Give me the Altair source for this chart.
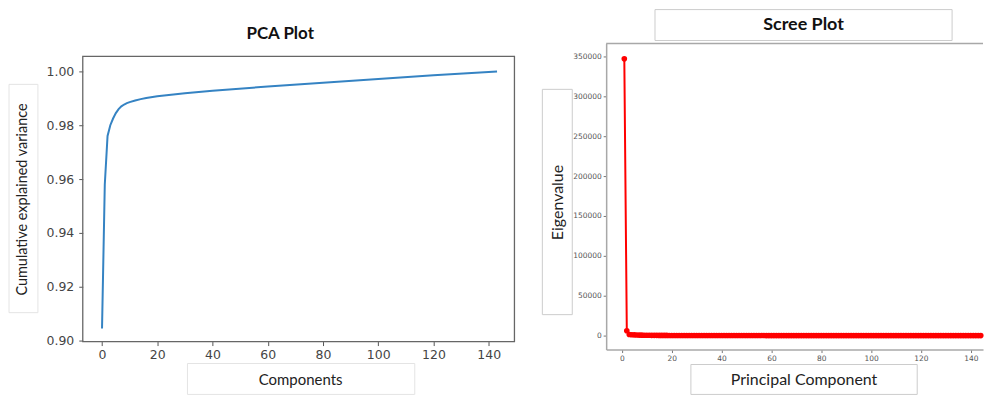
import altair as alt
import pandas as pd

# ---- data ----
cum_components = [0, 1, 2, 3, 4, 5, 6, 7, 8, 9, 10, 12, 14, 16, 20, 25, 30, 40, 60, 80, 100, 120, 143]
cum_variance = [0.9045, 0.958, 0.976, 0.980, 0.9825, 0.9845, 0.986, 0.987, 0.9877, 0.9882, 0.9886,
                0.9892, 0.9897, 0.9901, 0.9908, 0.9913, 0.9919, 0.9928, 0.9944, 0.9958, 0.9972,
                0.9986, 1.0000]

principal_component = list(range(1, 145))
eigenvalues = [347000, 6000,
               1400, 1100, 900, 750, 620, 540, 480, 420, 380, 340, 300, 270, 250, 230, 210, 195, 180, 170,
               160, 152, 145, 138, 131, 125, 119, 114, 109, 104, 100, 96, 92, 88, 85, 82, 79, 76, 73, 70,
               68, 66, 64, 62, 60, 58, 56, 54, 52, 50, 49, 48, 47, 46, 45, 44, 43, 42, 41, 40,
               39, 38, 37, 36, 35, 34, 33, 32, 31, 30, 29, 28, 27, 26, 25, 24, 23, 22, 21, 20,
               19.5, 19, 18.5, 18, 17.5, 17, 16.5, 16, 15.5, 15, 14.5, 14, 13.5, 13, 12.5, 12, 11.5, 11, 10.5, 10,
               9.6, 9.2, 8.8, 8.4, 8.0, 7.6, 7.2, 6.8, 6.4, 6.0, 5.7, 5.4, 5.1, 4.8, 4.5, 4.2, 3.9, 3.6, 3.3, 3.0,
               2.8, 2.6, 2.4, 2.2, 2.0, 1.9, 1.8, 1.7, 1.6, 1.5, 1.4, 1.3, 1.2, 1.1, 1.0, 0.9, 0.8, 0.7, 0.6, 0.5,
               0.4, 0.3, 0.2, 0.1]

left_x_ticks = [0, 20, 40, 60, 80, 100, 120, 140]
left_y_ticks = [0.90, 0.92, 0.94, 0.96, 0.98, 1.00]
right_x_ticks = [0, 20, 40, 60, 80, 100, 120, 140]
right_y_ticks = [0, 50000, 100000, 150000, 200000, 250000, 300000, 350000]

cum_df = pd.DataFrame({"Component": cum_components, "Cumulative": cum_variance})
scree_df = pd.DataFrame({"PC": principal_component, "Eigenvalue": eigenvalues})
one = pd.DataFrame({"k": [0]})

TXT = "Lato"
TICKF = "DejaVu Sans"

# ---------------- left: PCA plot ----------------
LW, LH = 433, 299

pca_line = alt.Chart(cum_df).mark_line(color="#3583c3", strokeWidth=2).encode(
    x=alt.X("Component:Q",
            scale=alt.Scale(domain=[-6.97, 149.3], nice=False, zero=False),
            axis=alt.Axis(values=left_x_ticks, format="d", grid=False, domain=False,
                          tickColor="#555", tickSize=4, labelColor="#444", labelFont=TICKF,
                          labelFontSize=12.5, labelPadding=3, labelFlush=False,
                          title="Components", titleFont=TXT, titleFontSize=15,
                          titleFontWeight="normal", titleColor="#222",
                          titleX=218, titleY=38, titleAlign="center", titleBaseline="middle")),
    y=alt.Y("Cumulative:Q",
            scale=alt.Scale(domain=[0.89963, 1.01037], nice=False, zero=False),
            axis=alt.Axis(values=left_y_ticks, format=".2f", grid=False, domain=False,
                          tickColor="#555", tickSize=4, labelColor="#444", labelFont=TICKF,
                          labelFontSize=12.5, labelPadding=5,
                          title="Cumulative explained variance", titleFont=TXT, titleFontSize=14.5,
                          titleFontWeight="normal", titleColor="#222",
                          titleX=-60, titleY=156, titleAlign="center", titleBaseline="middle")),
)

pca_frame = alt.Chart(one).mark_rect(fillOpacity=0, stroke="#666", strokeWidth=1.3).encode(
    x=alt.value(0), x2=alt.value(LW), y=alt.value(13), y2=alt.value(LH))

pca_ybox = alt.Chart(one).mark_rect(fillOpacity=0, stroke="#e4e4e4", strokeWidth=1).encode(
    x=alt.value(-74), x2=alt.value(-45), y=alt.value(41), y2=alt.value(270))
pca_xbox = alt.Chart(one).mark_rect(fillOpacity=0, stroke="#e4e4e4", strokeWidth=1).encode(
    x=alt.value(105), x2=alt.value(333), y=alt.value(321), y2=alt.value(352))

pca_title = alt.Chart(one).mark_text(text="PCA Plot", font=TXT, fontSize=17, fontWeight="bold",
                                     color="#111", align="center", baseline="middle").encode(
    x=alt.value(198), y=alt.value(-10))

left = alt.layer(pca_ybox, pca_xbox, pca_frame, pca_line, pca_title).properties(width=LW, height=LH)

# ---------------- right: Scree plot ----------------
RW, RH = 378, 307
FR = "#a8a8a8"

scree_line = alt.Chart(scree_df).mark_line(
    color="#ff0000", strokeWidth=2,
    point=alt.OverlayMarkDef(color="#ff0000", filled=True, size=32, opacity=1)).encode(
    x=alt.X("PC:Q",
            scale=alt.Scale(domain=[-6.28, 144.9], nice=False, zero=False),
            axis=alt.Axis(values=right_x_ticks, format="d", grid=False, domain=True,
                          domainColor=FR, domainWidth=1.5,
                          tickColor="#777", tickSize=3, labelColor="#555", labelFont=TICKF,
                          labelFontSize=7.5, labelPadding=2, labelFlush=False,
                          title="Principal Component", titleFont=TXT, titleFontSize=16,
                          titleFontWeight="normal", titleColor="#222",
                          titleX=198, titleY=30, titleAlign="center", titleBaseline="middle")),
    y=alt.Y("Eigenvalue:Q",
            scale=alt.Scale(domain=[-17500, 366250], nice=False, zero=False),
            axis=alt.Axis(values=right_y_ticks, format="d", grid=False, domain=True,
                          domainColor=FR, domainWidth=1.5,
                          tickColor="#777", tickSize=3, labelColor="#555", labelFont=TICKF,
                          labelFontSize=7.5, labelPadding=2,
                          title="Eigenvalue", titleFont=TXT, titleFontSize=16,
                          titleFontWeight="normal", titleColor="#222",
                          titleX=-49, titleY=159, titleAlign="center", titleBaseline="middle")),
)

scree_top = alt.Chart(one).mark_rule(color=FR, strokeWidth=1.5).encode(
    x=alt.value(0), x2=alt.value(RW), y=alt.value(0))

scree_tbox = alt.Chart(one).mark_rect(fillOpacity=0, stroke="#cccccc", strokeWidth=1).encode(
    x=alt.value(49), x2=alt.value(347), y=alt.value(-34), y2=alt.value(-3))
scree_ybox = alt.Chart(one).mark_rect(fillOpacity=0, stroke="#cccccc", strokeWidth=1).encode(
    x=alt.value(-64), x2=alt.value(-34), y=alt.value(46), y2=alt.value(272))
scree_xbox = alt.Chart(one).mark_rect(fillOpacity=0, stroke="#cccccc", strokeWidth=1).encode(
    x=alt.value(85), x2=alt.value(312), y=alt.value(322), y2=alt.value(352))

scree_title = alt.Chart(one).mark_text(text="Scree Plot", font=TXT, fontSize=18, fontWeight="bold",
                                       color="#111", align="center", baseline="middle").encode(
    x=alt.value(198), y=alt.value(-19))

right = alt.layer(scree_tbox, scree_ybox, scree_xbox, scree_top, scree_line, scree_title).properties(
    width=RW, height=RH)

chart = alt.hconcat(left, right, spacing=26).properties(
    padding={"left": 0, "top": 0, "right": 0, "bottom": 0}
).configure_view(stroke=None)

chart.save("out.html", embed_options={"renderer": "svg", "actions": False})
